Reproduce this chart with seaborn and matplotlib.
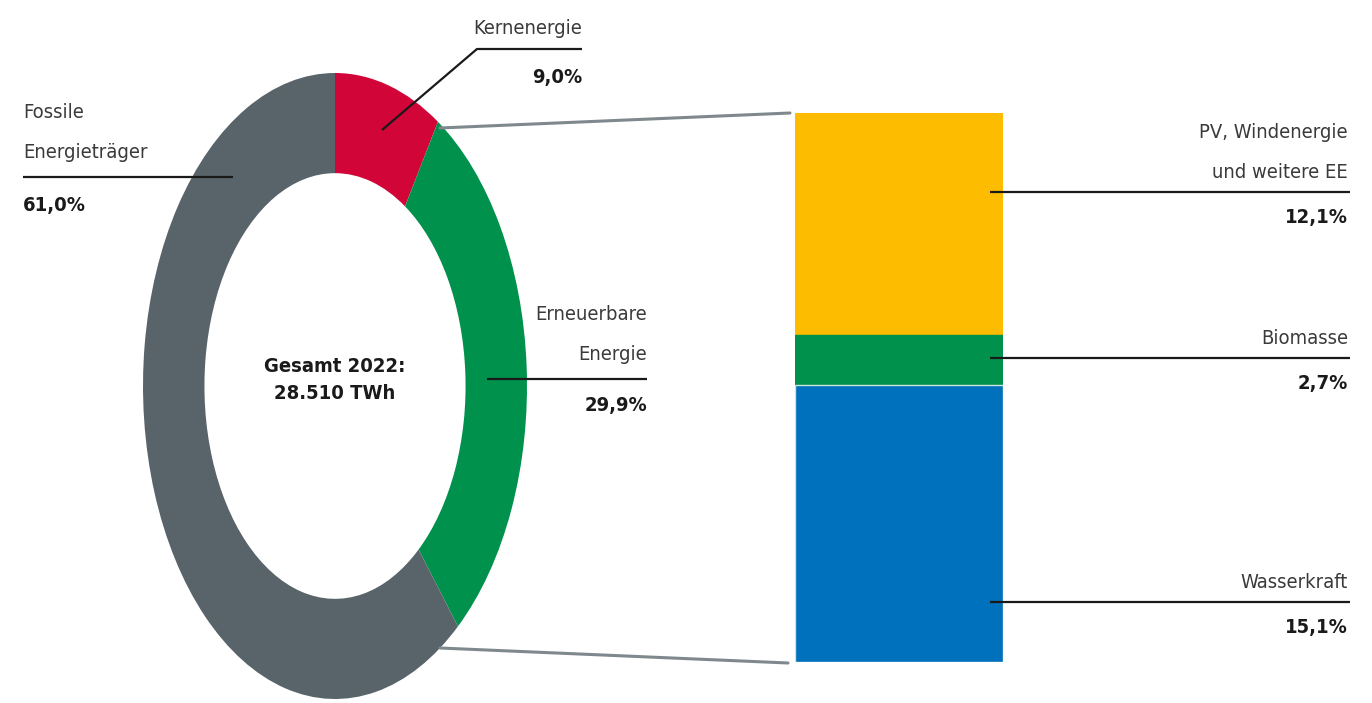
import seaborn as sns
sns.set_theme(style="white")
import matplotlib.pyplot as plt
import numpy as np
import pandas as pd

# donut: primary energy mix 2022
main_labels = ["Kernenergie", "Erneuerbare\nEnergie", "Fossile\nEnergieträger"]
main_values = [9.0, 29.9, 61.0]
main_colors = ["#d10538", "#00924c", "#59646a"]

# stacked bar: breakdown of renewables (bottom to top)
ee_labels = ["Wasserkraft", "Biomasse", "PV, Windenergie\nund weitere EE"]
ee_values = [15.1, 2.7, 12.1]
ee_colors = ["#0071bc", "#00924c", "#fdbc00"]

total_text = "Gesamt 2022:\n28.510 TWh"

W, H = 1372, 703
fig = plt.figure(figsize=(W / 100, H / 100), dpi=100)
fig.patch.set_facecolor("white")

# donut (image is stretched, so aspect is free)
cx, cy, rx, ry = 335, 386, 192, 313
ax_pie = fig.add_axes([(cx - rx) / W, (H - cy - ry) / H, 2 * rx / W, 2 * ry / H])
ax_pie.pie(main_values, colors=main_colors, startangle=90, counterclock=False,
           radius=1, wedgeprops=dict(width=0.32, linewidth=0))
ax_pie.set_aspect("auto")
ax_pie.set_xlim(-1, 1)
ax_pie.set_ylim(-1, 1)
ax_pie.axis("off")

# stacked bar drawn as overlapping cumulative bars
bx0, bx1, by0, by1 = 795, 1003, 113, 662
ax_bar = fig.add_axes([bx0 / W, (H - by1) / H, (bx1 - bx0) / W, (by1 - by0) / H])
cum = np.cumsum(ee_values)
for i in reversed(range(len(ee_values))):
    df = pd.DataFrame({"cat": ["EE"], "val": [cum[i]]})
    sns.barplot(data=df, x="cat", y="val", color=ee_colors[i], width=1,
                saturation=1, edgecolor="#cfe6da" if i == 0 else ee_colors[i],
                linewidth=1.0, ax=ax_bar)
ax_bar.set_ylim(0, cum[-1])
ax_bar.set_xlim(-0.5, 0.5)
ax_bar.axis("off")

# overlay for annotations in pixel coords
ov = fig.add_axes([0, 0, 1, 1], zorder=5)
ov.set_xlim(0, W)
ov.set_ylim(H, 0)
ov.axis("off")
ov.patch.set_alpha(0)

fam = ["DejaVu Sans"]
lab_kw = dict(fontsize=14.5, color="#3a3a3a", family=fam, stretch="condensed")
pct_kw = dict(fontsize=14.5, color="#1a1a1a", fontweight="bold", family=fam, stretch="condensed")
line_kw = dict(color="#1a1a1a", lw=1.6, solid_capstyle="butt")

# connector lines donut -> bar
ov.plot([440, 790], [128, 113], color="#7f898d", lw=2.2)
ov.plot([440, 788], [648, 663], color="#7f898d", lw=2.2)

# Fossile
ov.plot([23, 233], [177, 177], **line_kw)
ov.text(23, 113, "Fossile", ha="left", va="center", **lab_kw)
ov.text(23, 153, "Energieträger", ha="left", va="center", **lab_kw)
ov.text(23, 205, f"{main_values[2]:.1f}%".replace(".", ","), ha="left", va="center", **pct_kw)

# Kernenergie
ov.plot([382, 477, 582], [130, 49, 49], **line_kw)
ov.text(582, 28, "Kernenergie", ha="right", va="center", **lab_kw)
ov.text(582, 78, f"{main_values[0]:.1f}%".replace(".", ","), ha="right", va="center", **pct_kw)

# Erneuerbare
ov.plot([487, 647], [379, 379], **line_kw)
ov.text(647, 315, "Erneuerbare", ha="right", va="center", **lab_kw)
ov.text(647, 354, "Energie", ha="right", va="center", **lab_kw)
ov.text(647, 405, f"{main_values[1]:.1f}%".replace(".", ","), ha="right", va="center", **pct_kw)

# center text
ov.text(cx, 380, total_text, ha="center", va="center", linespacing=1.5,
        fontsize=14.5, fontweight="bold", color="#1a1a1a", family=fam, stretch="condensed")

# bar labels
bar_lab = [(602, [582], ee_values[0], ["Wasserkraft"]),
           (358, [338], ee_values[1], ["Biomasse"]),
           (192, [133, 172], ee_values[2], ["PV, Windenergie", "und weitere EE"])]
for ly, tys, v, lines in bar_lab:
    ov.plot([990, 1350], [ly, ly], **line_kw)
    for ty, t in zip(tys, lines):
        ov.text(1348, ty, t, ha="right", va="center", **lab_kw)
    ov.text(1348, ly + 26, f"{v:.1f}%".replace(".", ","), ha="right", va="center", **pct_kw)

fig.savefig("out.png", dpi=100, facecolor="white")
